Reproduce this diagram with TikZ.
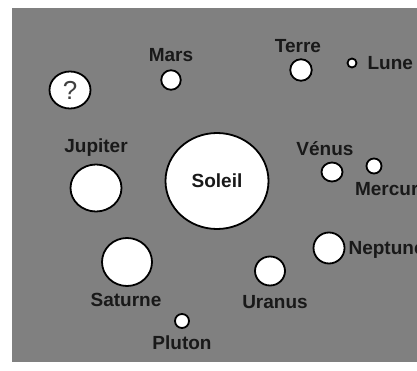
\documentclass[tikz,border=0pt]{standalone}
\usepackage{fontspec}
\setmainfont{Liberation Sans}
\usepackage{tikz}
\usetikzlibrary{shapes,positioning}
\definecolor{backdrop}{RGB}{128,128,128}
\tikzstyle{planet} = [ellipse, draw, fill=white, line width=1.8pt, inner sep=0pt]
\tikzstyle{planetlabel} = [inner sep=0pt, text height=13.6pt, text depth=0pt, text=black!90, font=\fontsize{19}{19}\selectfont\bfseries]

\begin{document}
\begin{tikzpicture}[x=1pt, y=-1pt]
    \clip (0,0) rectangle (417,371);
    \fill [backdrop] (12,8) rectangle (420,362);
    % Place planets
    \node [planet, minimum width=41pt, minimum height=37pt, text=black!75, font=\fontsize{26}{26}\selectfont] (unknown) at (70,90) {?};
    \node [planet, minimum width=19.5pt, minimum height=19.5pt] (mars) at (171,80) {};
    \node [planet, minimum width=21.5pt, minimum height=21.5pt] (terre) at (301,70) {};
    \node [planet, minimum width=9pt, minimum height=9pt] (lune) at (352,63) {};
    \node [planet, minimum width=51pt, minimum height=47pt] (jupiter) at (96,188) {};
    \node [planet, minimum width=103pt, minimum height=96pt, font=\fontsize{19}{19}\selectfont\bfseries, text=black!90] (soleil) at (217,181) {Soleil};
    \node [planet, minimum width=21pt, minimum height=19pt] (venus) at (332,172) {};
    \node [planet, minimum width=15pt, minimum height=15pt] (mercure) at (374,166) {};
    \node [planet, minimum width=31pt, minimum height=31pt] (neptune) at (329,248) {};
    \node [planet, minimum width=50pt, minimum height=48pt] (saturne) at (127,262) {};
    \node [planet, minimum width=30pt, minimum height=29pt] (uranus) at (270,271) {};
    \node [planet, minimum width=14pt, minimum height=14pt] (pluton) at (182,321) {};
    % Names
    \node [planetlabel, above=7.5pt of mars] (marsname) {Mars};
    \node [planetlabel, above=5.5pt of terre, xshift=-3pt] (terrename) {Terre};
    \node [planetlabel, right=10pt of lune] (lunename) {Lune};
    \node [planetlabel, above=11pt of jupiter] (jupitername) {Jupiter};
    \node [planetlabel, above=5.75pt of venus, xshift=-7pt] (venusname) {Vénus};
    \node [planetlabel, below=7pt of mercure, xshift=18pt] (mercurename) {Mercure};
    \node [planetlabel, right=3pt of neptune] (neptunename) {Neptune};
    \node [planetlabel, below=5.5pt of saturne, xshift=-1pt] (saturnename) {Saturne};
    \node [planetlabel, below=8pt of uranus, xshift=5pt] (uranusname) {Uranus};
    \node [planetlabel, below=6.5pt of pluton] (plutonname) {Pluton};
\end{tikzpicture}
\end{document}
